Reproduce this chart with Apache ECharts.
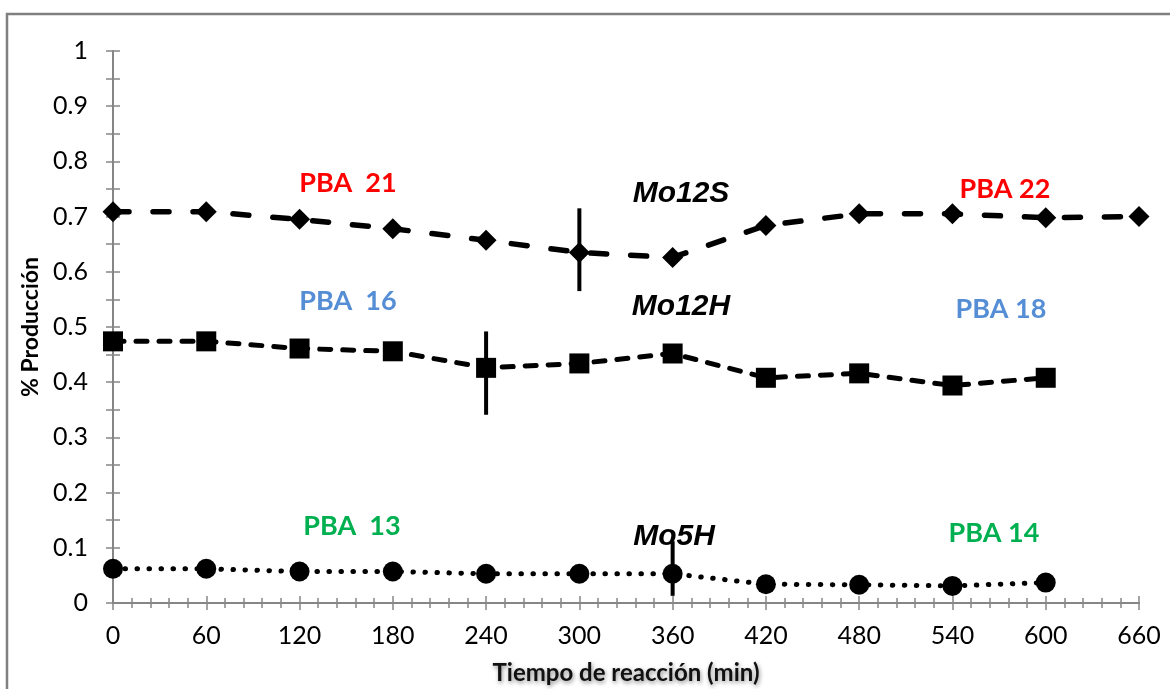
<!DOCTYPE html>
<html>
<head>
<meta charset="utf-8">
<script src="https://cdn.jsdelivr.net/npm/echarts@6/dist/echarts.min.js"></script>
<style>
  html, body { margin: 0; padding: 0; background: #fff; }
  #chart { width: 1170px; height: 689px; }
</style>
</head>
<body>
<div id="chart"></div>
<script>
// reaction time (min)
const times = [0, 60, 120, 180, 240, 300, 360, 420, 480, 540, 600, 660];

// % production per catalyst
const mo12S = [0.709, 0.709, 0.695, 0.678, 0.657, 0.635, 0.626, 0.684, 0.705, 0.705, 0.698, 0.700];
const mo12H = [0.474, 0.474, 0.461, 0.456, 0.426, 0.434, 0.452, 0.408, 0.416, 0.394, 0.408];
const mo5H = [0.062, 0.062, 0.057, 0.057, 0.053, 0.053, 0.053, 0.034, 0.033, 0.031, 0.037];

// error bars: [time, low, high]
const errorBars = [
  [300, 0.565, 0.715],
  [240, 0.341, 0.492],
  [360, 0.013, 0.112]
];

const pairs = (vals) => vals.map((v, i) => [times[i], v]);

const AXIS_GREY = '#868686';
const FONT = 'Lato, "Open Sans", sans-serif';

const chart = echarts.init(document.getElementById('chart'));

const baseX = {
  type: 'value',
  min: 0,
  max: 660,
  interval: 60,
  position: 'bottom',
  splitLine: { show: false },
  minorSplitLine: { show: false }
};
const baseY = {
  type: 'value',
  min: 0,
  max: 1,
  interval: 0.1,
  position: 'left',
  splitLine: { show: false },
  minorSplitLine: { show: false }
};

const label = (text, x, y, color, italic) => ({
  type: 'text',
  x, y,
  style: {
    text,
    fill: color,
    font: italic
      ? 'italic bold 30px "Liberation Sans", Arial, sans-serif'
      : 'bold 27px ' + FONT,
    align: 'center',
    verticalAlign: 'middle'
  }
});

chart.setOption({
  animation: false,
  backgroundColor: '#fff',
  grid: { left: 113, right: 31, top: 51, bottom: 86, outerBoundsMode: 'none' },
  xAxis: [
    {
      ...baseX,
      name: 'Tiempo de reacción (min)',
      nameLocation: 'middle',
      nameGap: 58,
      nameTextStyle: {
        fontFamily: FONT,
        fontWeight: 'bold',
        fontSize: 24,
        color: '#111',
        textShadowColor: 'rgba(0,0,0,0.45)',
        textShadowBlur: 4,
        textShadowOffsetX: 1,
        textShadowOffsetY: 2
      },
      axisLine: { onZero: false, lineStyle: { color: AXIS_GREY, width: 2 } },
      axisTick: { show: true, length: 7, lineStyle: { color: AXIS_GREY, width: 1.5 } },
      minorTick: { show: true, splitNumber: 5, length: 5, lineStyle: { color: AXIS_GREY, width: 1.5 } },
      axisLabel: { fontFamily: FONT, fontSize: 25, color: '#000', margin: 20, showMinLabel: true, showMaxLabel: true }
    },
    {
      ...baseX,
      axisLine: { show: false },
      axisLabel: { show: false },
      axisTick: { show: true, inside: true, length: 7, lineStyle: { color: AXIS_GREY, width: 1.5 } },
      minorTick: { show: true, splitNumber: 5, length: 5, lineStyle: { color: AXIS_GREY, width: 1.5 } }
    }
  ],
  yAxis: [
    {
      ...baseY,
      name: '% Producción',
      nameLocation: 'middle',
      nameGap: 68,
      nameTextStyle: { fontFamily: FONT, fontWeight: 'bold', fontSize: 23, color: '#000' },
      axisLine: { onZero: false, show: true, lineStyle: { color: AXIS_GREY, width: 2 } },
      axisTick: { show: true, length: 7, lineStyle: { color: AXIS_GREY, width: 1.5 } },
      minorTick: { show: true, splitNumber: 2, length: 7, lineStyle: { color: AXIS_GREY, width: 1.5 } },
      axisLabel: { fontFamily: FONT, fontSize: 25, color: '#000', margin: 25, showMinLabel: true, showMaxLabel: true }
    },
    {
      ...baseY,
      axisLine: { show: false },
      axisLabel: { show: false },
      axisTick: { show: true, inside: true, length: 7, lineStyle: { color: AXIS_GREY, width: 1.5 } },
      minorTick: { show: true, splitNumber: 2, length: 7, lineStyle: { color: AXIS_GREY, width: 1.5 } }
    }
  ],
  series: [
    {
      name: 'Mo12S',
      type: 'line',
      data: pairs(mo12S),
      symbol: 'diamond',
      symbolSize: 21,
      itemStyle: { color: '#000' },
      lineStyle: { color: '#000', width: 5.5, type: [16, 24], cap: 'round' }
    },
    {
      name: 'Mo12H',
      type: 'line',
      data: pairs(mo12H),
      symbol: 'rect',
      symbolSize: 20,
      itemStyle: { color: '#000' },
      lineStyle: { color: '#000', width: 5, type: [11, 12], cap: 'round' }
    },
    {
      name: 'Mo5H',
      type: 'line',
      data: pairs(mo5H),
      symbol: 'circle',
      symbolSize: 20,
      itemStyle: { color: '#000' },
      lineStyle: { color: '#000', width: 5, type: [0.5, 11.5], cap: 'round' }
    },
    {
      name: 'error',
      type: 'custom',
      data: errorBars,
      encode: { x: 0, y: [1, 2] },
      z: 5,
      renderItem: (params, api) => {
        const top = api.coord([api.value(0), api.value(2)]);
        const bottom = api.coord([api.value(0), api.value(1)]);
        return {
          type: 'line',
          shape: { x1: top[0], y1: top[1], x2: bottom[0], y2: bottom[1] },
          style: { stroke: '#000', lineWidth: 4 }
        };
      }
    }
  ],
  graphic: [
    {
      type: 'rect',
      shape: { x: 7, y: 14, width: 1300, height: 800 },
      style: { fill: null, stroke: '#808080', lineWidth: 2.5 },
      silent: true
    },
    label('PBA  21', 348, 183, '#FF0000'),
    label('PBA 22', 1005, 189, '#FF0000'),
    label('Mo12S', 681, 194, '#000', true),
    label('PBA  16', 348, 301, '#558ED5'),
    label('Mo12H', 681, 307, '#000', true),
    label('PBA 18', 1001, 309, '#558ED5'),
    label('PBA  13', 352, 526, '#00B050'),
    label('Mo5H', 674, 537, '#000', true),
    label('PBA 14', 994, 533, '#00B050')
  ]
});
</script>
</body>
</html>
